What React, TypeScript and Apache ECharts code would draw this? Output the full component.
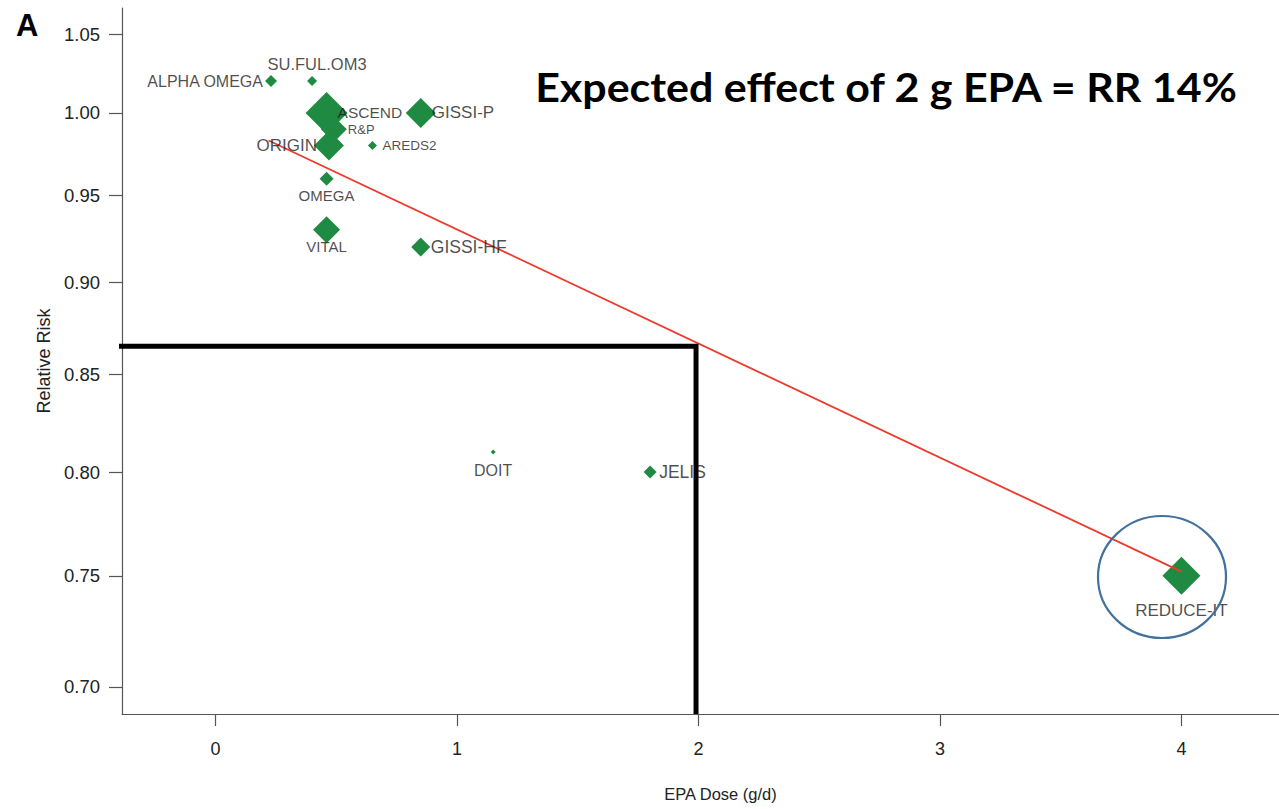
import React, { useEffect, useRef } from "react";
import * as echarts from "echarts";

// ---- data ----
const studies = ["ALPHA OMEGA", "SU.FUL.OM3", "ASCEND", "R&P", "ORIGIN", "AREDS2", "GISSI-P", "OMEGA", "VITAL", "GISSI-HF", "DOIT", "JELIS", "REDUCE-IT"];
const epaDose = [0.23, 0.40, 0.46, 0.49, 0.47, 0.65, 0.85, 0.46, 0.46, 0.85, 1.15, 1.80, 4.00];
const relativeRisk = [1.02, 1.02, 1.00, 0.99, 0.98, 0.98, 1.00, 0.96, 0.93, 0.92, 0.81, 0.80, 0.75];
const xTicks = [0, 1, 2, 3, 4];
const yTicks = [0.70, 0.75, 0.80, 0.85, 0.90, 0.95, 1.00, 1.05];
const fitDose = [0.22, 4.0];
const fitRR = [0.983, 0.752];
const refDose = [-0.41, 1.99, 1.99];
const refRR = [0.865, 0.865, 0.6883];
const titleText = "Expected effect of 2 g EPA = RR 14%";

// ---- styles (marker size, label placement) ----
const markerSize: Record<string, number> = {
  "ALPHA OMEGA": 12, "SU.FUL.OM3": 10, ASCEND: 42, "R&P": 26, ORIGIN: 30, AREDS2: 9,
  "GISSI-P": 30, OMEGA: 14, VITAL: 27, "GISSI-HF": 19, DOIT: 5, JELIS: 13, "REDUCE-IT": 38,
};
const labelStyle: Record<string, { pos: string; dist: number; size: number; dx?: number }> = {
  "ALPHA OMEGA": { pos: "left", dist: 8, size: 16 },
  "SU.FUL.OM3": { pos: "top", dist: 9, size: 16.5, dx: 5 },
  ASCEND: { pos: "right", dist: 11, size: 15.5 },
  "R&P": { pos: "right", dist: 14, size: 13 },
  ORIGIN: { pos: "left", dist: 12, size: 17 },
  AREDS2: { pos: "right", dist: 10, size: 13.5 },
  "GISSI-P": { pos: "right", dist: 11, size: 17 },
  OMEGA: { pos: "bottom", dist: 9, size: 15 },
  VITAL: { pos: "bottom", dist: 9, size: 15 },
  "GISSI-HF": { pos: "right", dist: 10, size: 17.5 },
  DOIT: { pos: "bottom", dist: 10, size: 16 },
  JELIS: { pos: "right", dist: 9, size: 17.5 },
  "REDUCE-IT": { pos: "bottom", dist: 26, size: 17 },
};

const FONT = "'Liberation Sans', Arial, sans-serif";
const GREEN = "#1f8a42";

export default function App() {
  const ref = useRef<HTMLDivElement>(null);
  useEffect(() => {
    document.body.style.margin = "0";
    const chart = echarts.init(ref.current!, undefined, { renderer: "svg" });
    const ln = Math.log;

    // fit title width to the reference's span
    let titleScale = 1;
    const titleFontSize = 40;
    try {
      const ctx = document.createElement("canvas").getContext("2d")!;
      ctx.font = `700 ${titleFontSize}px Lato`;
      const w = ctx.measureText(titleText).width;
      if (w > 0) titleScale = Math.min(1.25, Math.max(0.75, 704 / w));
    } catch (e) {}

    const markerData = studies.map((s, i) => ({
      name: s,
      value: [epaDose[i], ln(relativeRisk[i])],
      symbolSize: markerSize[s],
    }));
    const labelData = studies.map((s, i) => {
      const st = labelStyle[s];
      return {
        name: s,
        value: [epaDose[i], ln(relativeRisk[i])],
        label: {
          show: true,
          formatter: s,
          position: st.pos,
          distance: st.dist,
          fontSize: st.size,
          offset: [st.dx || 0, 0],
        },
      };
    });

    const option: any = {
      animation: false,
      backgroundColor: "#ffffff",
      textStyle: { fontFamily: FONT },
      grid: { left: 122, right: 0, top: 8, bottom: 95, containLabel: false },
      xAxis: {
        type: "value",
        min: -0.387,
        max: 4.404,
        name: "EPA Dose (g/d)",
        nameLocation: "middle",
        nameGap: 71,
        nameTextStyle: { fontSize: 16.5, color: "#222", fontFamily: FONT, padding: [0, 0, 0, 40] },
        splitLine: { show: false },
        axisLine: { show: true, onZero: false, lineStyle: { color: "#555", width: 1.2 } },
        axisTick: { show: true, customValues: xTicks, length: 12, lineStyle: { color: "#555", width: 1.2 } },
        axisLabel: { customValues: xTicks, margin: 26, fontSize: 18, color: "#222", fontFamily: FONT },
      },
      yAxis: {
        type: "value",
        min: ln(0.6883),
        max: ln(1.0674),
        name: "Relative Risk",
        nameLocation: "middle",
        nameGap: 68,
        nameTextStyle: { fontSize: 18, color: "#222", fontFamily: FONT },
        splitLine: { show: false },
        axisLine: { show: true, onZero: false, lineStyle: { color: "#555", width: 1.2 } },
        axisTick: { show: true, customValues: yTicks.map(ln), length: 13, lineStyle: { color: "#555", width: 1.2 } },
        axisLabel: {
          customValues: yTicks.map(ln),
          margin: 22,
          fontSize: 18.5,
          color: "#222",
          fontFamily: FONT,
          formatter: (v: number) => Math.exp(v).toFixed(2),
        },
      },
      series: [
        {
          type: "scatter",
          symbol: "diamond",
          data: markerData,
          itemStyle: { color: GREEN, opacity: 1 },
          z: 2,
        },
        {
          type: "line",
          data: fitDose.map((d, i) => [d, ln(fitRR[i])]),
          symbol: "none",
          lineStyle: { color: "#ee3a2c", width: 1.8 },
          z: 3,
        },
        {
          type: "scatter",
          symbol: "circle",
          symbolSize: 0.1,
          data: labelData,
          itemStyle: { color: "rgba(0,0,0,0)" },
          label: { color: "#1e1e1e", fontFamily: FONT },
          z: 4,
        },
        {
          type: "line",
          data: refDose.map((d, i) => [d, ln(refRR[i])]),
          symbol: "none",
          clip: false,
          lineStyle: { color: "#000", width: 5, cap: "butt", join: "miter" },
          z: 5,
        },
      ],
      graphic: [
        {
          type: "text",
          left: 16,
          top: 10,
          style: { text: "A", fontSize: 31, fontWeight: 900, fontFamily: FONT, fill: "#000" },
        },
        {
          type: "text",
          x: 886,
          y: 87,
          scaleX: titleScale,
          style: {
            text: titleText,
            x: 0,
            y: 0,
            align: "center",
            verticalAlign: "middle",
            fontSize: titleFontSize,
            fontWeight: 700,
            fontFamily: "Lato, 'Open Sans', sans-serif",
            fill: "#000",
          },
        },
        {
          type: "ellipse",
          shape: { cx: 1162, cy: 577, rx: 64, ry: 61 },
          style: { fill: "none", stroke: "#41719c", lineWidth: 2.2 },
          z: 10,
        },
      ],
    };
    chart.setOption(option);
    return () => chart.dispose();
  }, []);
  return <div ref={ref} style={{ width: 1279, height: 809 }} />;
}
